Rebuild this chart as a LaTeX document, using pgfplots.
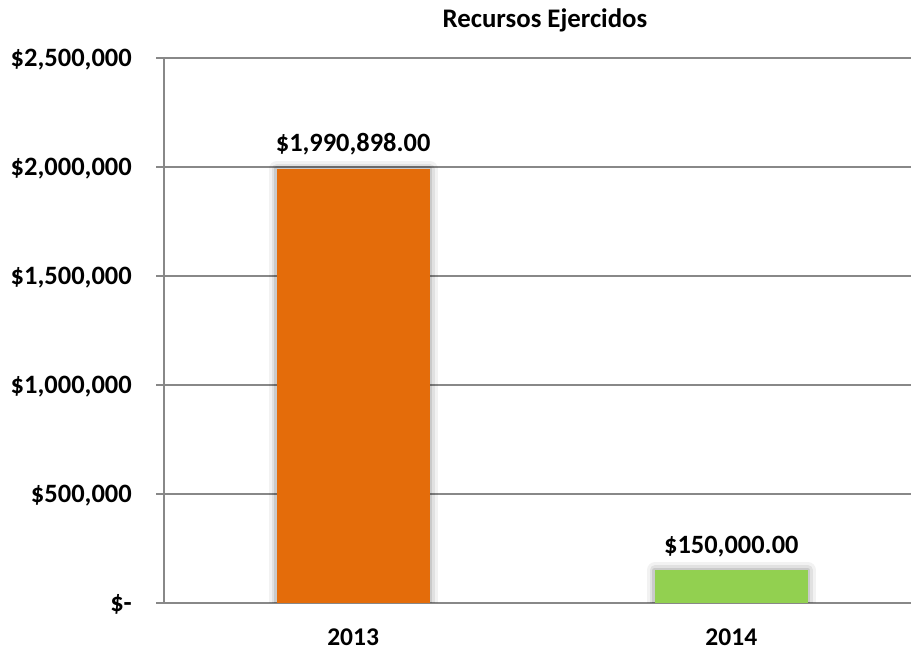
\documentclass[border=0pt]{standalone}
\usepackage{pgfplots}
\pgfplotsset{compat=1.18}
\usepackage{fontspec}
\setmainfont{Carlito}
\definecolor{barorange}{HTML}{E46C0A}
\definecolor{bargreen}{HTML}{92D050}
\definecolor{gridgray}{HTML}{888888}
\tikzset{softshadow/.style={
  preaction={draw=black, draw opacity=0.05, line width=16pt, line join=round},
  preaction={draw=black, draw opacity=0.07, line width=10pt, line join=round},
  preaction={draw=black, draw opacity=0.10, line width=5pt, line join=round}}}
\begin{document}
\begin{tikzpicture}[x=1pt,y=1pt]
\useasboundingbox (0,0) rectangle (911,651);
\begin{axis}[
  at={(164pt,48pt)}, anchor=south west,
  scale only axis,
  width=747pt, height=545pt,
  xmin=-0.5, xmax=1.475,
  ymin=0, ymax=2500000,
  scaled y ticks=false,
  ytick={0,500000,1000000,1500000,2000000,2500000},
  yticklabels={\$-,{\$500,000},{\$1,000,000},{\$1,500,000},{\$2,000,000},{\$2,500,000}},
  xtick={0,1},
  xticklabels={2013,2014},
  axis x line*=bottom,
  axis y line*=left,
  axis line style={gridgray, line width=1.2pt},
  ymajorgrids,
  grid style={gridgray, line width=1.2pt},
  major y tick style={gridgray, line width=1.2pt},
  major x tick style={draw=none},
  tick align=outside,
  major tick length=8pt,
  yticklabel style={anchor=base east, inner sep=0pt, xshift=-24pt, yshift=-8.5pt,
    font=\fontsize{26.5}{30}\selectfont\bfseries},
  xticklabel style={anchor=base, inner sep=0pt, yshift=-34pt,
    font=\fontsize{25.5}{30}\selectfont\bfseries},
  ybar, bar width=153pt, bar shift=0pt,
  every node near coord/.append style={anchor=base, inner sep=0pt, yshift=17pt,
    font=\fontsize{26.4}{30}\selectfont\bfseries, text=black},
]
\addplot[fill=barorange, draw=none, softshadow,
  nodes near coords={\$1,990,898.00}] coordinates {(0,1990898)};
\addplot[fill=bargreen, draw=none, softshadow,
  nodes near coords={\$150,000.00}] coordinates {(1,150000)};
\end{axis}
\node[anchor=base, inner sep=0pt, font=\fontsize{26.8}{30}\selectfont\bfseries] at (545,623) {Recursos Ejercidos};
\end{tikzpicture}
\end{document}
